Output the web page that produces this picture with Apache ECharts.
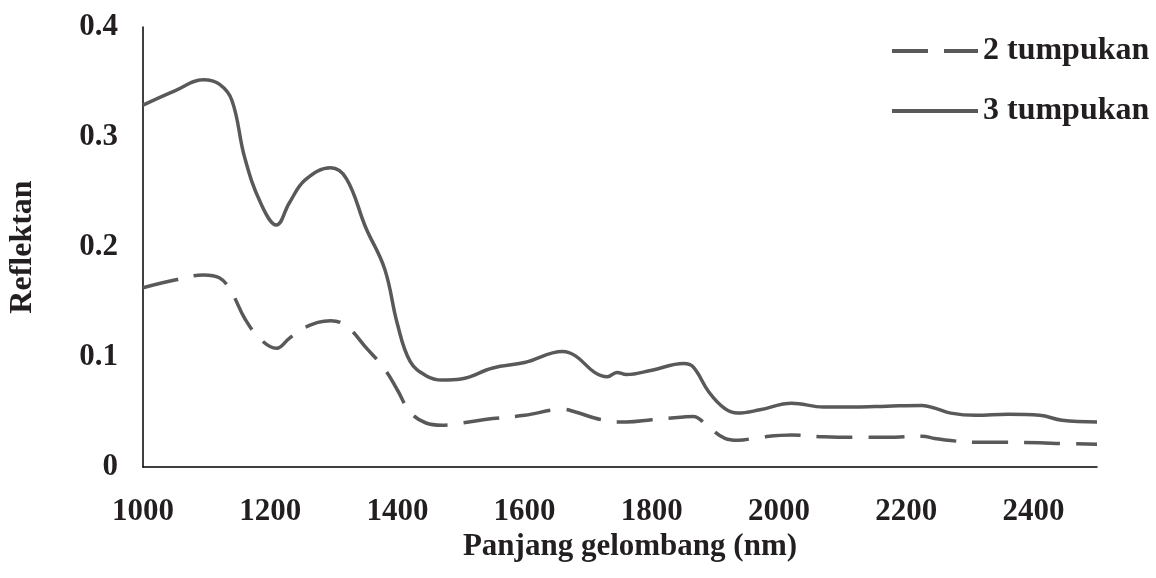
<!DOCTYPE html>
<html>
<head>
<meta charset="utf-8">
<script src="https://cdn.jsdelivr.net/npm/echarts@6/dist/echarts.min.js"></script>
<style>
  html, body { margin: 0; padding: 0; background: #fff; }
  #chart { width: 1156px; height: 578px; }
</style>
</head>
<body>
<div id="chart"></div>
<script>
// wavelength (nm) sampled along the curves
var wavelengths = [1000, 1050, 1095, 1120, 1140, 1160, 1185, 1210, 1230, 1255, 1295, 1320, 1350, 1380, 1400,
  1420, 1445, 1470, 1500, 1550, 1600, 1660, 1680, 1710, 1730, 1745, 1760, 1800, 1850, 1865, 1890,
  1915, 1935, 1970, 2020, 2070, 2120, 2170, 2225, 2245, 2270, 2310, 2360, 2410, 2445, 2500];

var tumpukan2 = [0.163, 0.170, 0.1745, 0.172, 0.158, 0.135, 0.116, 0.108, 0.117, 0.127, 0.133, 0.128, 0.109, 0.089, 0.070,
  0.050, 0.040, 0.038, 0.040, 0.044, 0.047, 0.0525, 0.050, 0.0445, 0.042, 0.041, 0.041, 0.043, 0.0455, 0.046, 0.036,
  0.026, 0.0243, 0.027, 0.029, 0.0275, 0.027, 0.027, 0.028, 0.026, 0.024, 0.0225, 0.0225, 0.022, 0.0213, 0.0207];

var tumpukan3 = [0.329, 0.342, 0.352, 0.348, 0.333, 0.281, 0.240, 0.220, 0.240, 0.261, 0.272, 0.262, 0.218, 0.180, 0.130,
  0.096, 0.083, 0.079, 0.080, 0.090, 0.095, 0.105, 0.101, 0.086, 0.082, 0.086, 0.084, 0.088, 0.094, 0.091, 0.068,
  0.053, 0.049, 0.052, 0.058, 0.0545, 0.0545, 0.0553, 0.056, 0.0535, 0.049, 0.047, 0.048, 0.047, 0.0425, 0.041];

var seriesNames = ['2 tumpukan', '3 tumpukan'];

function pairs(ys) {
  return wavelengths.map(function (x, i) { return [x, ys[i]]; });
}

var font = 'Liberation Serif';
var textColor = '#231f20';
var lineColor = '#595959';

var chart = echarts.init(document.getElementById('chart'));
chart.setOption({
  animation: false,
  grid: { left: 143, right: 59, top: 27, bottom: 111, outerBoundsMode: 'none' },
  legend: {
    orient: 'vertical',
    left: 892,
    top: 35,
    padding: 0,
    itemWidth: 86,
    itemHeight: 4,
    itemGap: 28,
    itemTextGap: 14,
    textStyle: { fontFamily: font, fontWeight: 'bold', fontSize: 32, color: textColor, lineHeight: 31 },
    data: [
      { name: seriesNames[0], icon: 'path://M0,0H36V4H0Z M52,0H86V4H52Z' },
      { name: seriesNames[1], icon: 'path://M0,0H86V4H0Z' }
    ]
  },
  xAxis: {
    type: 'value',
    min: 1000,
    max: 2500,
    interval: 200,
    name: 'Panjang gelombang (nm)',
    nameLocation: 'middle',
    nameGap: 62,
    nameTextStyle: { fontFamily: font, fontWeight: 'bold', fontSize: 31, color: textColor, padding: [0, 0, 0, 20] },
    axisLine: { lineStyle: { color: '#000', width: 1.5 } },
    axisTick: { show: false },
    splitLine: { show: false },
    axisLabel: {
      showMaxLabel: false,
      margin: 29,
      fontFamily: font, fontWeight: 'bold', fontSize: 31, color: textColor,
      formatter: function (v) { return String(v); }
    }
  },
  yAxis: {
    type: 'value',
    min: 0,
    max: 0.4,
    interval: 0.1,
    name: 'Reflektan',
    nameLocation: 'middle',
    nameRotate: 90,
    nameGap: 104,
    nameTextStyle: { fontFamily: font, fontWeight: 'bold', fontSize: 32, color: textColor },
    axisLine: { show: true, lineStyle: { color: '#000', width: 1.5 } },
    axisTick: { show: false },
    splitLine: { show: false },
    axisLabel: { margin: 25, fontFamily: font, fontWeight: 'bold', fontSize: 31, color: textColor }
  },
  series: [
    {
      name: seriesNames[0],
      type: 'line',
      data: pairs(tumpukan2),
      smooth: 0.4,
      symbol: 'none',
      lineStyle: { color: lineColor, width: 3.5, type: [36, 16] },
      itemStyle: { color: lineColor }
    },
    {
      name: seriesNames[1],
      type: 'line',
      data: pairs(tumpukan3),
      smooth: 0.4,
      symbol: 'none',
      lineStyle: { color: lineColor, width: 3.5 },
      itemStyle: { color: lineColor }
    }
  ]
});
</script>
</body>
</html>
